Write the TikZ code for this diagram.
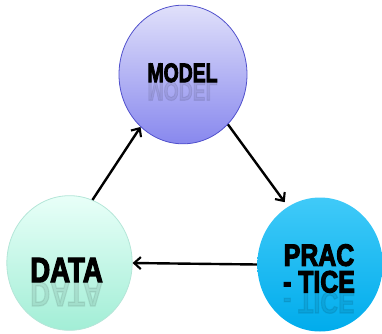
\documentclass[tikz,border=0pt]{standalone}
\usepackage{fontspec}
\setmainfont{Liberation Sans}
\newfontfamily\heavyfont[FakeBold=4]{Liberation Sans Bold}
\usetikzlibrary{shapes.geometric,arrows.meta}

\definecolor{modeltop}{HTML}{E0E0FA}
\definecolor{modelbot}{HTML}{8888EE}
\definecolor{modeledge}{HTML}{5050CC}
\definecolor{datatop}{HTML}{E8FFF8}
\definecolor{databot}{HTML}{A2EED6}
\definecolor{dataedge}{HTML}{B4E6D8}
\definecolor{practop}{HTML}{40CAF8}
\definecolor{pracbot}{HTML}{00ACEC}

\begin{document}
\begin{tikzpicture}[x=0.75pt, y=0.75pt,
    bubble/.style={ellipse, inner sep=0pt, minimum width=94pt, minimum height=101pt, line width=0.6pt},
    word/.style={inner sep=0pt, anchor=base},
    mirror/.style={word, opacity=0.08},
    arrow/.style={-{Straight Barb[length=5pt,width=9pt,line width=1.6pt]}, line width=1.8pt}]

    \useasboundingbox (0,0) rectangle (382,333);

    % Model
    \node[bubble, minimum width=96pt, minimum height=104pt, draw=modeledge,
        top color=modeltop, bottom color=modelbot] (model) at (183,258.5) {};
    \node[word, font=\heavyfont\fontsize{19.9}{20}\selectfont] (modeltxt) at (182.5,251) {\scalebox{0.73}[1]{MODEL}};
    \node[mirror, font=\heavyfont\fontsize{19.9}{20}\selectfont] (modelref) at (182.5,251) {\scalebox{0.73}[-1]{MODEL}};

    % Data
    \node[bubble, draw=dataedge, top color=datatop, bottom color=databot] (data) at (69.5,70) {};
    \node[word, font=\heavyfont\fontsize{26.2}{27}\selectfont] (datatxt) at (66.5,51) {\scalebox{0.79}[1]{DATA}};
    \node[mirror, font=\heavyfont\fontsize{26.2}{27}\selectfont] (dataref) at (66.5,51) {\scalebox{0.79}[-1]{DATA}};

    % Practice
    \node[bubble, minimum height=100.5pt, top color=practop, bottom color=pracbot] (prac) at (320,68.5) {};
    \node[inner sep=0pt, align=center, font=\heavyfont\fontsize{23}{20}\selectfont] (practxt) at (319,64.5)
        {\scalebox{0.81}[1]{PRAC}\\\scalebox{0.81}[1]{- TICE}};
    \node[mirror, font=\heavyfont\fontsize{23}{24}\selectfont] (pracref) at (319,41) {\scalebox{0.81}[-1]{- TICE}};

    % Cycle
    \draw[arrow] (data.70) -- (model.231);
    \draw[arrow, shorten >=4pt] (model.312) -- (prac.119);
    \draw[arrow] (prac.west) -- (data.east);
\end{tikzpicture}
\end{document}
